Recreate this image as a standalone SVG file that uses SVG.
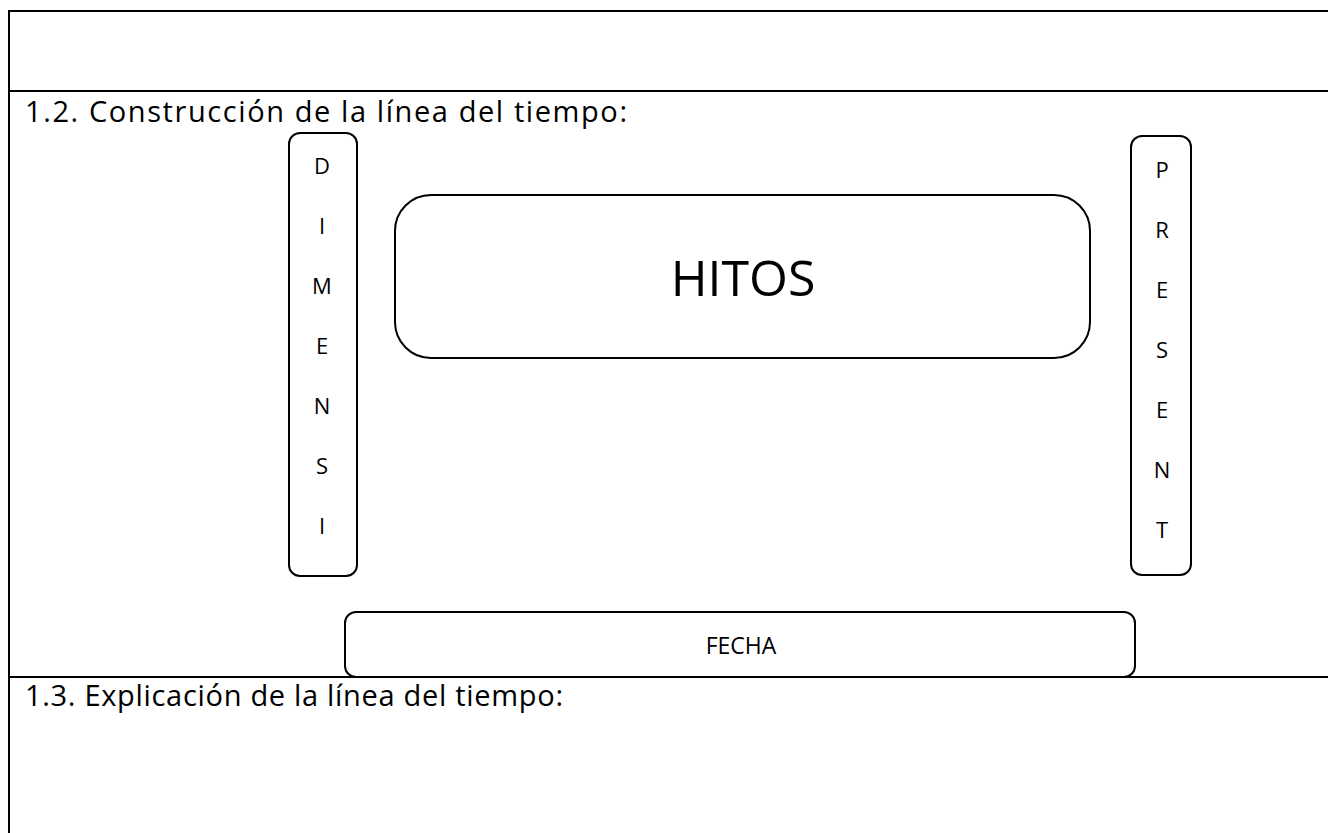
<svg xmlns="http://www.w3.org/2000/svg" width="1328" height="833" viewBox="0 0 1328 833">
<style>
.frame{stroke:#000;stroke-width:2;fill:none}
.box{stroke:#000;stroke-width:2;fill:#fff}
.t{font-family:"Open Sans","Liberation Sans",sans-serif;fill:#000}
.head{font-size:29px}
.letter{font-size:22px;text-anchor:middle}
</style>
<rect width="1328" height="833" fill="#fff"/>
<g id="frame">
<line class="frame" x1="9" y1="11" x2="1328" y2="11"/>
<line class="frame" x1="9" y1="10" x2="9" y2="833"/>
<line class="frame" x1="9" y1="91" x2="1328" y2="91"/>
<line class="frame" x1="9" y1="677" x2="1328" y2="677"/>
</g>
<text class="t head" x="25" y="122" textLength="602" lengthAdjust="spacing">1.2. Construcción de la línea del tiempo:</text>
<text class="t head" x="25" y="706" textLength="538" lengthAdjust="spacing">1.3. Explicación de la línea del tiempo:</text>
<g id="dimension">
<rect class="box" x="289" y="133" width="68" height="443" rx="11"/>
<text class="t letter" x="322" y="174">D</text>
<text class="t letter" x="322" y="234">I</text>
<text class="t letter" x="322" y="294">M</text>
<text class="t letter" x="322" y="354">E</text>
<text class="t letter" x="322" y="414">N</text>
<text class="t letter" x="322" y="474">S</text>
<text class="t letter" x="322" y="534">I</text>
</g>
<g id="present">
<rect class="box" x="1131" y="136" width="60" height="439" rx="11"/>
<text class="t letter" x="1162" y="178">P</text>
<text class="t letter" x="1162" y="238">R</text>
<text class="t letter" x="1162" y="298">E</text>
<text class="t letter" x="1162" y="358">S</text>
<text class="t letter" x="1162" y="418">E</text>
<text class="t letter" x="1162" y="478">N</text>
<text class="t letter" x="1162" y="538">T</text>
</g>
<g id="hitos">
<rect class="box" x="395" y="195" width="695" height="163" rx="36"/>
<text class="t" x="743" y="296" font-size="50" text-anchor="middle">HITOS</text>
</g>
<g id="fecha">
<rect class="box" x="345" y="612" width="790" height="65" rx="11"/>
<text class="t" x="741" y="654" font-size="23" text-anchor="middle">FECHA</text>
</g>
<g id="connectors"></g>
</svg>
